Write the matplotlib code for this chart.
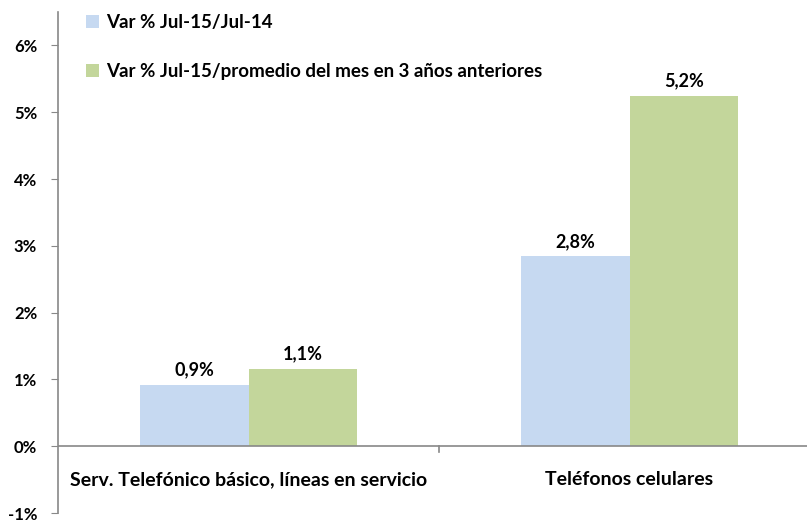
import matplotlib.pyplot as plt
import numpy as np

categories = ['Serv. Telefónico básico, líneas en servicio', 'Teléfonos celulares']
series_names = ['Var % Jul-15/Jul-14', 'Var % Jul-15/promedio del mes en 3 años anteriores']
var_anual = [0.91, 2.84]
var_promedio = [1.15, 5.25]
labels_anual = ['0,9%', '2,8%']
labels_promedio = ['1,1%', '5,2%']
yticks = [-1, 0, 1, 2, 3, 4, 5, 6]

plt.rcParams['font.family'] = ['Lato', 'DejaVu Sans']
plt.rcParams['font.weight'] = 'bold'

fig = plt.figure(figsize=(8.07, 5.20), dpi=100)
# axes runs past the right edge, as in the original crop
ax = fig.add_axes([58 / 807, 7 / 520, 762 / 807, 501 / 520])

x = np.arange(len(categories)) + 0.5
w = 0.286
colors = ['#C6D9F1', '#C3D69B']

ax.bar(x - w / 2, var_anual, w, color=colors[0], label=series_names[0])
ax.bar(x + w / 2, var_promedio, w, color=colors[1], label=series_names[1])

for xi, v, t in zip(x - w / 2, var_anual, labels_anual):
    ax.text(xi, v + 0.1, t, ha='center', va='bottom', fontsize=13, fontweight='bold')
for xi, v, t in zip(x + w / 2, var_promedio, labels_promedio):
    ax.text(xi, v + 0.1, t, ha='center', va='bottom', fontsize=13, fontweight='bold')

ax.set_xlim(0, 2)
ax.set_ylim(-1, 6.5)
ax.set_yticks(yticks)
ax.set_yticklabels([f'{t}%' for t in yticks], fontsize=12, fontweight='bold')
ax.tick_params(axis='y', length=5, color='#888888', pad=10)

ax.set_xticks([])
ax.axhline(0, color='#888888', lw=1.2)
ax.plot([1, 1], [0, -0.08], color='#888888', lw=1.2, clip_on=False)
for xi, c in zip(x, categories):
    ax.text(xi, -0.5, c, ha='center', va='center', fontsize=14, fontweight='bold')

for s in ['top', 'right', 'bottom']:
    ax.spines[s].set_visible(False)
ax.spines['left'].set_color('#888888')
ax.spines['left'].set_linewidth(1.2)

leg = fig.legend(loc='upper left', bbox_to_anchor=(69 / 807, 1.005), frameon=False,
                 fontsize=13.5, handlelength=0.7, handleheight=0.7,
                 handletextpad=0.4, labelspacing=1.68)

fig.savefig('out.png', dpi=100)
